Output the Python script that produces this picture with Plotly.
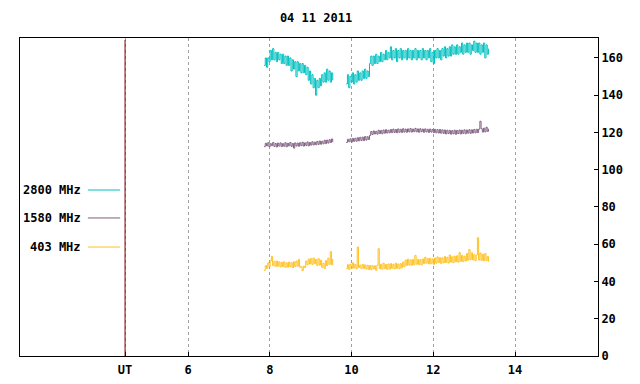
import plotly.graph_objects as go

# ---------------- data ----------------
title_text = "04 11 2011"
series_names = ["2800 MHz", "1580 MHz", "403 MHz"]
series_colors = ["#00C0C0", "#806080", "#FFC020"]

# time sampling of the record (hours UT)
seg1_start, seg2_start, sample_step = 7.86, 9.87, 0.03

f2800_seg1 = [156, 160, 155, 160, 158, 164, 159, 165, 159, 163, 158, 163, 159, 162, 157, 162,
              157, 161, 156, 161, 156, 160, 153, 159, 154, 158, 150, 158, 153, 157, 152, 157,
              152, 156, 151, 155, 148, 153, 146, 151, 144, 149, 140, 148, 144, 149, 145, 151,
              147, 152, 147, 154, 148, 153, 147, 152, 148]
f2800_seg2 = [146, 151, 144, 150, 147, 152, 146, 151, 147, 153, 148, 152, 148, 153, 149, 154,
              149, 153, 150, 157, 161, 156, 161, 157, 162, 157, 161, 158, 163, 158, 162, 159,
              164, 159, 163, 160, 166, 159, 164, 160, 165, 158, 164, 160, 165, 159, 164, 160,
              164, 159, 165, 160, 164, 159, 164, 160, 165, 159, 164, 160, 164, 159, 165, 160,
              164, 159, 164, 160, 165, 158, 163, 157, 164, 160, 165, 160, 164, 159, 165, 161,
              166, 160, 165, 161, 166, 161, 167, 162, 166, 162, 167, 162, 166, 163, 168, 162,
              167, 163, 168, 163, 168, 162, 167, 164, 169, 163, 168, 163, 168, 162, 167, 163,
              168, 160, 167, 162, 165]

f1580_seg1 = [112.4, 114.2, 112.8, 114.5, 112.3, 114, 112.9, 114.6, 112.5, 114.1, 112.2, 114.3,
              112.7, 114.4, 112.4, 114, 112.6, 114.5, 112.3, 114.2, 112.8, 114.6, 112.5, 114.1,
              111.6, 114.4, 112.7, 114.3, 112.6, 114.5, 112.9, 114.8, 112.7, 114.4, 113, 114.9,
              112.8, 114.6, 113.2, 115, 113.3, 114.8, 113.4, 115.2, 113.6, 115.4, 113.7, 115.3,
              113.9, 115.8, 114, 115.9, 114.3, 116.1, 114.6, 116.5, 114.8]
f1580_seg2 = [114.6, 116.3, 115, 116.6, 114.8, 116.8, 115.2, 116.9, 115.3, 117.2, 115.5, 117.4,
              115.7, 117.5, 115.6, 117.8, 115.9, 117.7, 116.2,
              118.4, 120.5, 118.9, 120.8, 119.2, 120.6, 119.1, 121.2, 119.4, 121, 119.3, 121.3,
              119.6, 121.5, 119.7, 121.2, 119.8, 121.6,
              119.9, 121.8, 120, 121.6, 119.8, 121.9, 120.1, 121.7, 120, 122, 120.2, 121.8,
              120.1, 121.9, 120.3, 122.1, 120.2, 121.8, 120.4, 122.2, 120.3, 121.9, 120.1, 122,
              120.4, 121.8, 120.1, 121.9, 120.3, 121.7, 120, 121.8, 120.2, 121.6,
              119.9, 121.7, 119.8, 121.5, 119.7, 121.6, 119.6, 121.4, 119.5, 121.3, 119.2, 121.2,
              119.4, 121.1, 119.1, 121, 119.3, 121.2, 119, 121.1, 119.4, 121.3, 119.2, 121.2,
              119.5, 121.4, 119.3, 121.3, 119.6, 121.5, 119.5, 121.4, 119.7, 121.6, 119.8, 121.7,
              119.9, 121.8, 126, 122, 120.2, 122.3,
              120.3, 122.8, 120.6, 122]

f403_seg1 = [46, 48.5, 47, 50, 48, 51, 53.5, 48.5, 50.8, 48, 51, 48.2, 50.5, 47.8, 50.3, 48,
             50.6, 47.6, 50, 47.7, 50.4, 47.9, 50.1, 47.5, 50.6, 48, 51, 48.2, 51.8, 47.6, 48,
             45.8, 48.2, 47.5, 51, 49, 52, 49.4, 52.3, 49.2, 52.6, 49.5, 51.8, 48.6, 52.2, 48.8,
             51.4, 47.6, 49.8, 47, 51.2, 48.5, 52.5, 49.2, 56, 49, 52.2]
f403_seg2 = [46.8, 49, 46.5, 49.3, 46.9, 50, 47.2, 49.2, 46.8, 58.5, 47.5, 48.8, 46.9, 49.2,
             47, 48.9, 46.6, 48.7, 46.4, 48.6,
             46.3, 48.5, 46.8, 48.4, 46, 48.7, 57.6, 46.8, 49.2, 46.6, 49.8, 46.9, 49.1, 46.5,
             49.4, 46.7, 49.6, 47.1, 49.2, 46.8,
             49.8, 47.1, 49.4, 46.9, 49.6, 47.3, 50.4, 48, 51.5, 48.6, 52, 48.8, 51.6, 48.7,
             51.9, 49, 54, 49.3, 51.9, 49.1,
             51.7, 48.9, 52.1, 49.6, 53, 49.8, 52.3, 49.4, 52.5, 49.5, 52.1, 49.2, 52.6, 49.8,
             53.2, 50.1, 52.8, 49.7, 52.7, 50,
             53.4, 50.2, 53, 49.9, 54.2, 50.4, 53.3, 50.1, 53.6, 50.6, 53.8, 50.4, 55.5, 50.8,
             54, 50.7, 53.6, 51, 55, 51.4,
             57.2, 51.8, 55.4, 51.6, 54.4, 51.2, 54.2, 63.5, 51.5, 55.3, 51.3, 54.6, 51.1, 55,
             51.2, 53.4, 50.6]

x_tick_vals = [4.46, 6, 8, 10, 12, 14]
x_tick_text = ["UT", "6", "8", "10", "12", "14"]
y_tick_vals = [0, 20, 40, 60, 80, 100, 120, 140, 160]
x_range = [1.89, 16.03]
y_range = [0, 170.7]
ut_position = 4.46

# ---------------- figure ----------------
FONT = "DejaVu Sans Mono"


def build(seg1, seg2):
    xs = [seg1_start + sample_step * i for i in range(len(seg1))]
    xs += [None]
    xs += [seg2_start + sample_step * i for i in range(len(seg2))]
    ys = list(seg1) + [None] + list(seg2)
    return xs, ys


fig = go.Figure()
data_sets = [(f2800_seg1, f2800_seg2), (f1580_seg1, f1580_seg2), (f403_seg1, f403_seg2)]
for (s1, s2), name, col in zip(data_sets[::-1], series_names[::-1], series_colors[::-1]):
    xs, ys = build(s1, s2)
    fig.add_trace(go.Scatter(x=xs, y=ys, mode="lines", name=name,
                             line=dict(color=col, width=1, shape="hv"), showlegend=False,
                             connectgaps=False, hoverinfo="skip"))

# UT marker line
fig.add_shape(type="line", xref="x", yref="y", x0=ut_position, x1=ut_position,
              y0=y_range[0], y1=y_range[1] - 1, line=dict(color="#800000", width=1))

# hand-built key: text on the left, sample line on the right
legend_y = [89.1, 74.1, 58.5]
for name, col, ly in zip(series_names, series_colors, legend_y):
    fig.add_annotation(x=3.43, y=ly, xref="x", yref="y", text=name, showarrow=False,
                       xanchor="right", yanchor="middle",
                       font=dict(family=FONT, size=12, color="black", weight="bold"))
    fig.add_shape(type="line", xref="x", yref="y", x0=3.55, x1=4.34, y0=ly, y1=ly,
                  line=dict(color=col, width=1))

fig.update_layout(
    width=640, height=384,
    margin=dict(l=20, r=42, t=38, b=28),
    paper_bgcolor="white", plot_bgcolor="white",
    title=dict(text=title_text, x=316 / 640, y=1 - 18 / 384, xanchor="center", yanchor="middle",
               font=dict(family=FONT, size=12, color="black", weight="bold")),
    showlegend=False,
)
fig.update_xaxes(range=x_range, tickvals=x_tick_vals, ticktext=x_tick_text,
                 showgrid=True, gridcolor="#A0A0A0", griddash="dot", gridwidth=1,
                 zeroline=False, showline=True, linecolor="black", linewidth=1, mirror=True,
                 ticks="inside", ticklen=4, tickcolor="black", automargin=False,
                 ticklabelstandoff=3,
                 tickfont=dict(family=FONT, size=12, color="black", weight="bold"))
fig.update_yaxes(range=y_range, tickvals=y_tick_vals, side="right",
                 showgrid=False, zeroline=False, showline=True, linecolor="black", linewidth=1,
                 mirror=True, ticks="inside", ticklen=4, tickcolor="black", automargin=False,
                 tickfont=dict(family=FONT, size=12, color="black", weight="bold"))

fig.write_html("out.html", config={"displayModeBar": False},
               post_script="document.body.style.margin='0';")
